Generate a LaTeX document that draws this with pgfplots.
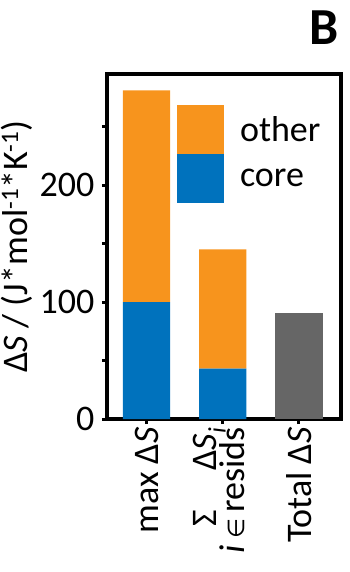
\documentclass[border=0pt]{standalone}
\usepackage{pgfplots}
\pgfplotsset{compat=1.18}
\usepackage{fontspec}
\setmainfont{Carlito}
\newfontfamily\djv{DejaVu Sans}
\definecolor{myorange}{RGB}{247,148,29}
\definecolor{myblue}{RGB}{0,114,189}
\definecolor{mygray}{RGB}{102,102,102}
\begin{document}
\begin{tikzpicture}
\path[use as bounding box] (-107pt,-153pt) rectangle (242pt,419pt);
\begin{axis}[
  scale only axis, width=233.5pt, height=345pt,
  xmin=-0.52, xmax=2.546, ymin=0, ymax=295,
  ybar stacked, bar width=0.62,
  axis line style={line width=4pt, black},
  xtick={0,1,2}, ytick={0,100,200}, minor ytick={50,150,250},
  xtick pos=bottom, ytick pos=left,
  tick align=outside, major tick length=5pt, minor tick length=5pt,
  every tick/.style={line width=3pt, black},
  /pgf/number format/assume math mode=true,
  yticklabel style={font=\fontsize{36}{40}\selectfont, xshift=-4pt},
  xticklabel style={font=\fontsize{36}{40}\selectfont, rotate=90, anchor=east},
  xticklabels={{max Δ\textit{S}},
    {\begin{tabular}{@{}r@{}}Σ\hspace{40pt}Δ\textit{S}\textsubscript{\textit{i}}\\[-12pt]\fontsize{36}{36}\selectfont\textit{i}\,{\djv\fontsize{23}{23}\selectfont ∈}\,resids\end{tabular}},
    {Total Δ\textit{S}}},
  ylabel={Δ\textit{S} / (J*mol\textsuperscript{-1}*K\textsuperscript{-1})},
  ylabel style={font=\fontsize{36}{40}\selectfont, at={(axis description cs:-0.388,0.5)}, anchor=center},
  legend style={at={(rel axis cs:0.3,0.91)}, anchor=north west, draw=none, fill=none,
    inner sep=0pt, outer sep=0pt, row sep=0pt,
    font=\fontsize{36}{40}\selectfont, nodes={inner sep=0pt}},
  legend cell align=left, reverse legend,
]
\addplot[fill=myblue, draw=none, legend image code/.code={\fill[myblue] (0pt,-24.5pt) rectangle (47pt,24.5pt); \path (63pt,0pt);}]
  coordinates {(0,100) (1,43) (2,0)};
\addlegendentry{core}
\addplot[fill=myorange, draw=none, legend image code/.code={\fill[myorange] (0pt,-24.5pt) rectangle (47pt,24.5pt); \path (63pt,0pt);}]
  coordinates {(0,181) (1,102) (2,0)};
\addlegendentry{other}
\addplot[fill=mygray, draw=none, forget plot]
  coordinates {(0,0) (1,0) (2,91)};
\draw[line width=4pt, black] (rel axis cs:0,0) rectangle (rel axis cs:1,1);
\end{axis}
\node[font=\fontsize{52}{56}\selectfont\bfseries] at (217pt,391pt) {B};
\end{tikzpicture}
\end{document}
